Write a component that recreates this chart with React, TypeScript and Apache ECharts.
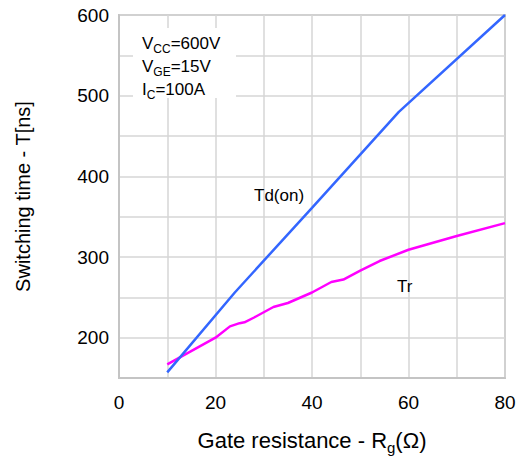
import React, { useEffect, useRef } from "react";
import * as echarts from "echarts";

const tdRg = [10, 24, 40, 58, 80];
const tdVals = [157, 256, 361, 480, 600];
const trRg = [10, 20, 23, 25, 26, 28, 32, 35, 40, 44, 46.5, 50, 54, 60, 70, 80];
const trVals = [167, 200, 214, 218, 219, 225, 238, 243, 256, 269, 272, 283, 295, 309, 326, 342];
const yTickLabels = [200, 300, 400, 500, 600];
const xTickLabels = [0, 20, 40, 60, 80];

const FONT = "Liberation Sans, Arial, sans-serif";

export default function App() {
  const ref = useRef<HTMLDivElement>(null);
  useEffect(() => {
    if (!ref.current) return;
    const chart = echarts.init(ref.current, undefined, { renderer: "svg" });
    const sub = { fontSize: 12, fontFamily: FONT, color: "#000", verticalAlign: "bottom", lineHeight: 23 };
    const main = { fontSize: 17, fontFamily: FONT, color: "#000", lineHeight: 21 };
    chart.setOption({
      animation: false,
      backgroundColor: "#fff",
      grid: {
        left: 119,
        top: 15,
        width: 386,
        height: 367,
        show: true,
        borderColor: "#c4c4c4",
        borderWidth: 2,
        containLabel: false,
      },
      xAxis: {
        type: "value",
        min: 0,
        max: 80,
        interval: 10,
        name: "Gate resistance - R{s|g}(Ω)",
        nameLocation: "middle",
        nameGap: 48,
        nameTextStyle: {
          fontSize: 22,
          fontFamily: FONT,
          color: "#000",
          rich: { s: { fontSize: 15, fontFamily: FONT, color: "#000", verticalAlign: "bottom", lineHeight: 29 } },
        },
        axisLine: { show: true, lineStyle: { color: "#c4c4c4", width: 2 } },
        axisTick: { show: false },
        splitLine: { show: true, lineStyle: { color: "#d6d6d6", width: 1.5 } },
        axisLabel: {
          fontSize: 19,
          fontFamily: FONT,
          color: "#000",
          margin: 15,
          formatter: (v: number) => (xTickLabels.includes(v) ? String(v) : ""),
        },
      },
      yAxis: {
        type: "value",
        min: 150,
        max: 600,
        interval: 50,
        name: "Switching time - T[ns]",
        nameLocation: "middle",
        nameGap: 86,
        nameTextStyle: { fontSize: 20, fontFamily: FONT, color: "#000" },
        axisLine: { show: true, lineStyle: { color: "#c4c4c4", width: 2 } },
        axisTick: { show: false },
        splitLine: { show: true, lineStyle: { color: "#d6d6d6", width: 1.5 } },
        axisLabel: {
          fontSize: 19,
          fontFamily: FONT,
          color: "#000",
          margin: 10,
          formatter: (v: number) => (yTickLabels.includes(v) ? String(v) : ""),
        },
      },
      graphic: [
        {
          type: "rect",
          left: 133,
          top: 28,
          shape: { width: 103, height: 70 },
          style: { fill: "#fff" },
          z: 5,
        },
        {
          type: "text",
          left: 142,
          top: 32,
          z: 6,
          style: {
            text: "V{s|CC}{m|=600V}\nV{s|GE}{m|=15V}\nI{s|C}{m|=100A}",
            fontSize: 17,
            fontFamily: FONT,
            fill: "#000",
            lineHeight: 21,
            rich: { s: sub, m: main },
          },
        },
        {
          type: "text",
          left: 254,
          top: 187,
          z: 6,
          style: { text: "Td(on)", fontSize: 17, fontFamily: FONT, fill: "#000" },
        },
        {
          type: "text",
          left: 397,
          top: 278,
          z: 6,
          style: { text: "Tr", fontSize: 17, fontFamily: FONT, fill: "#000" },
        },
      ],
      series: [
        {
          name: "Td(on)",
          type: "line",
          data: tdRg.map((x, i) => [x, tdVals[i]]),
          showSymbol: false,
          lineStyle: { color: "#3366ff", width: 2.5 },
          z: 10,
        },
        {
          name: "Tr",
          type: "line",
          data: trRg.map((x, i) => [x, trVals[i]]),
          showSymbol: false,
          lineStyle: { color: "#ff00ff", width: 2.5 },
          z: 9,
        },
      ],
    });
    return () => chart.dispose();
  }, []);
  return <div ref={ref} style={{ width: 523, height: 460, position: "absolute", left: 0, top: 0 }} />;
}
